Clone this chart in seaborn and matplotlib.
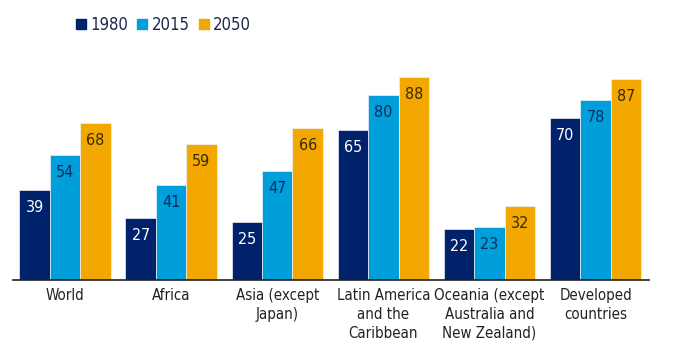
import pandas as pd
import matplotlib.pyplot as plt
import seaborn as sns

# data
regions = ["World", "Africa", "Asia (except\nJapan)", "Latin America\nand the\nCaribbean",
           "Oceania (except\nAustralia and\nNew Zealand)", "Developed\ncountries"]
years = ["1980", "2015", "2050"]
v1980 = [39, 27, 25, 65, 22, 70]
v2015 = [54, 41, 47, 80, 23, 78]
v2050 = [68, 59, 66, 88, 32, 87]

colors = ["#00226B", "#009EDB", "#F2A800"]
label_colors = ["white", "#0B2D5C", "#3A2A00"]

df = pd.DataFrame({
    "region": regions * 3,
    "year": [y for y in years for _ in regions],
    "value": v1980 + v2015 + v2050,
})

sns.set_style("white")
plt.rcParams["font.family"] = ["DejaVu Sans"]
plt.rcParams["font.stretch"] = "condensed"

fig = plt.figure(figsize=(6.8, 3.56), dpi=100)
ax = fig.add_axes([0.019, 0.2135, 0.935, 0.6485])

sns.barplot(data=df, x="region", y="value", hue="year", palette=colors,
            width=0.86, saturation=1, edgecolor="#EEF2F8", linewidth=0.5, ax=ax)

# value labels inside the bars
for cont, c in zip(ax.containers, label_colors):
    ax.bar_label(cont, padding=-18, color=c, fontsize=11.5)

ax.set_ylim(0, 100)
ax.set_xlim(-0.49, 5.5)
ax.set_xlabel("")
ax.set_ylabel("")
ax.set_yticks([])
ax.tick_params(axis="x", length=0, pad=6, labelsize=10.8, labelcolor="#222222")
for lbl in ax.get_xticklabels():
    lbl.set_linespacing(1.3)
for s in ["top", "right", "left"]:
    ax.spines[s].set_visible(False)
ax.spines["bottom"].set_color("#222222")
ax.spines["bottom"].set_linewidth(1.2)

ax.get_legend().remove()
handles = [plt.Rectangle((0, 0), 1, 1, color=c) for c in colors]
fig.legend(handles, years, loc="upper left", bbox_to_anchor=(0.112, 0.955), ncol=3,
           frameon=False, fontsize=12, handlelength=0.6, handleheight=0.6,
           handletextpad=0.25, columnspacing=0.55, borderpad=0, borderaxespad=0,
           labelcolor="#1A2A4A")

plt.savefig("out.png", dpi=100)
